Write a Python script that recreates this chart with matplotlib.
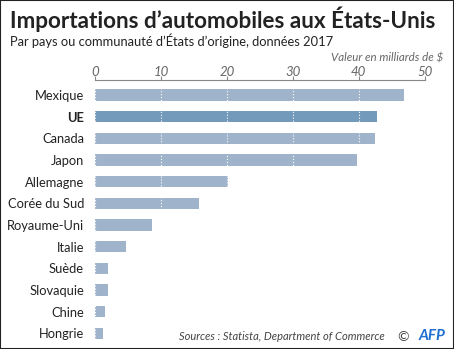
import matplotlib
matplotlib.use("Agg")
import matplotlib.pyplot as plt
from matplotlib.patches import Rectangle

countries = ["Mexique", "UE", "Canada", "Japon", "Allemagne", "Corée du Sud",
             "Royaume-Uni", "Italie", "Suède", "Slovaquie", "Chine", "Hongrie"]
values = [46.9, 42.7, 42.5, 39.7, 20.1, 15.7, 8.6, 4.7, 2.0, 2.0, 1.5, 1.2]
highlight = "UE"
xticks = [0, 10, 20, 30, 40, 50]

plt.rcParams['font.family'] = ['Lato', 'DejaVu Sans']

fig = plt.figure(figsize=(4.54, 3.49), dpi=100, facecolor='white')
ax = fig.add_axes([95 / 454, 1 - 345 / 349, 329.7 / 454, 265 / 349])

colors = ['#7399bb' if c == highlight else '#9fb4cb' for c in countries]
pos = list(range(len(countries)))
ax.barh(pos, values, height=0.53, color=colors, zorder=1)

ax.set_xlim(0, 50)
ax.set_ylim(len(countries) - 1 + 0.54, -0.69)
ax.set_xticks(xticks)
ax.set_xticklabels([str(t) for t in xticks], fontstyle='italic', color='#666666', fontsize=9.5)
ax.xaxis.tick_top()
ax.tick_params(axis='x', length=3, color='#888888', pad=-1.5)
ax.set_yticks(pos)
ax.set_yticklabels(countries, fontsize=9.3, color='#222222')
ax.tick_params(axis='y', length=0, pad=8)
for lbl in ax.get_yticklabels():
    if lbl.get_text() == highlight:
        lbl.set_fontweight('bold')

for s in ['bottom', 'left', 'right']:
    ax.spines[s].set_visible(False)
ax.spines['top'].set_color('#888888')
ax.spines['top'].set_linewidth(0.8)

ax.set_axisbelow(False)
ax.grid(axis='x', color='white', linestyle=':', linewidth=0.8)

title = fig.text(10 / 454, 1 - 19 / 349, "Importations d’automobiles aux États-Unis",
                 fontsize=20, fontweight='bold', color='#222222', va='center', ha='left')
fig.text(10 / 454, 1 - 41 / 349, "Par pays ou communauté d’États d’origine, données 2017",
         fontsize=9.3, color='#222222', va='center', ha='left')
fig.text(443 / 454, 1 - 58 / 349, "Valeur en milliards de $",
         fontsize=8.3, fontstyle='italic', color='#666666', va='center', ha='right')
fig.text(385 / 454, 1 - 337 / 349, "Sources : Statista, Department of Commerce",
         fontsize=8, fontstyle='italic', color='#444444', va='center', ha='right')
fig.text(403 / 454, 1 - 337 / 349, "©", fontsize=10, color='#444444', va='center', ha='center')
fig.text(445 / 454, 1 - 336 / 349, "AFP", fontsize=11, fontweight='bold', fontstyle='italic',
         color='#1f6fd1', va='center', ha='right')

# fit the title to the reference width (about 427 px)
r = fig.canvas.get_renderer()
w = title.get_window_extent(r).width
title.set_fontsize(20 * 427 / w)

fig.patches.append(Rectangle((0, 0), 1, 1, transform=fig.transFigure, fill=False,
                             edgecolor='#222222', linewidth=1.5))

fig.savefig("out.png", dpi=100, facecolor='white')
